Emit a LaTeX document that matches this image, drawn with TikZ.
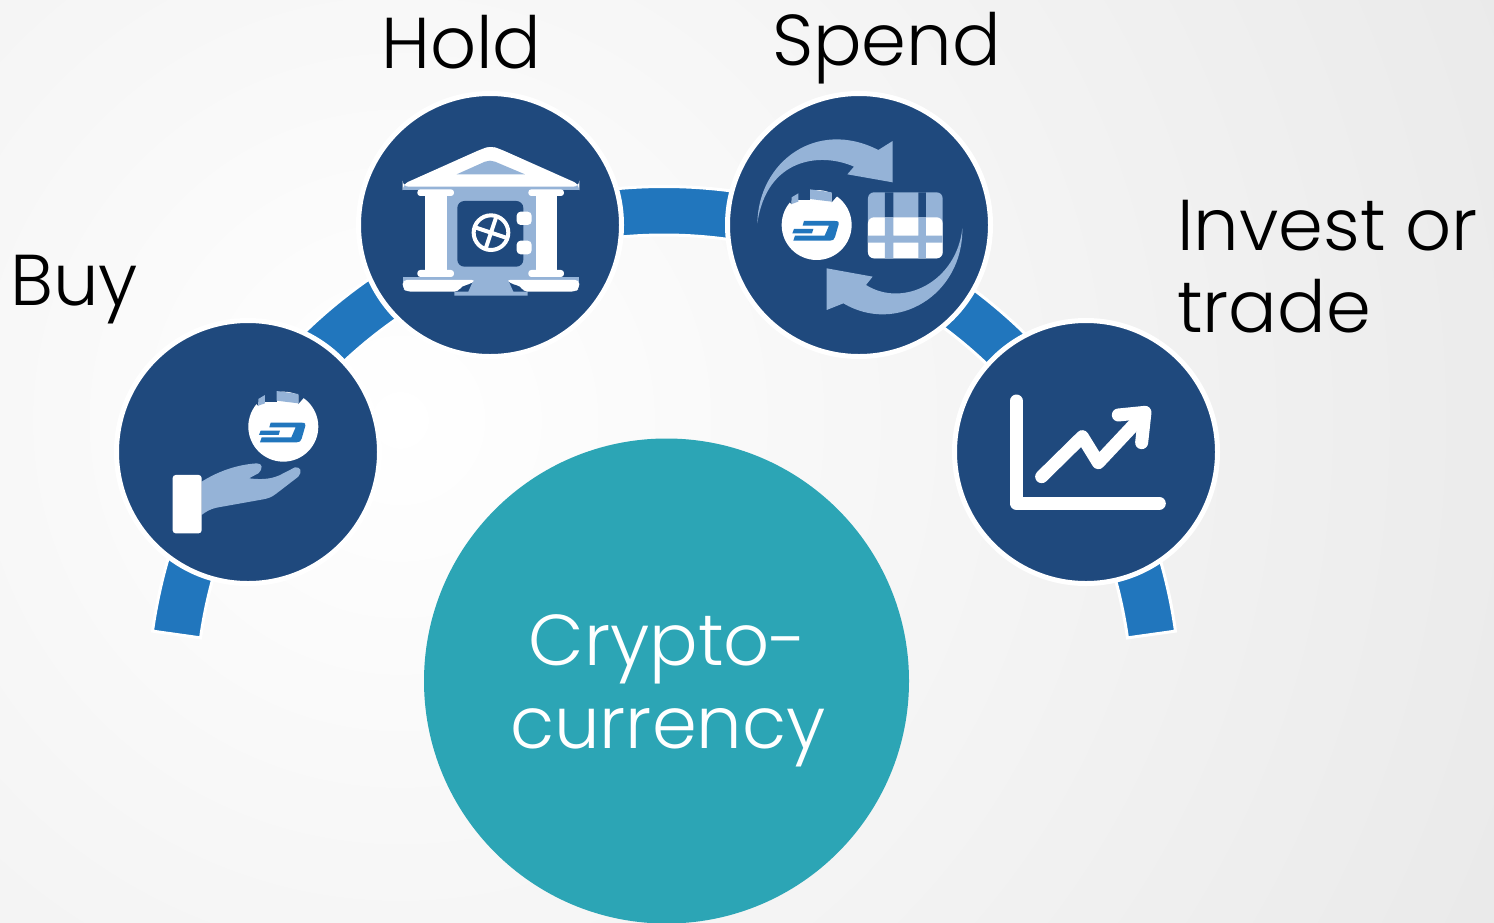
\documentclass[tikz,border=0pt]{standalone}
\usepackage{fontspec}
\setmainfont{Poppins}[UprightFont=* Light]
\definecolor{navy}{HTML}{1F497D}
\definecolor{barblue}{HTML}{2176BD}
\definecolor{pale}{HTML}{95B3D7}
\definecolor{teal1}{HTML}{2CA5B5}
\definecolor{bggrey}{HTML}{E8E8E8}
\newcommand{\coinicon}{%
  \fill[white] (0,0) circle (105);
  \fill[navy] (-55,-115) rectangle (-20,-75);
  \fill[navy] (45,-105) -- (66,-92) -- (45,-68) -- cycle;
  \fill[navy] (-75,-85) -- (-83,-70) -- (-75,-62) -- cycle;
  \fill[pale] (-75,-83) -- (-55,-95) -- (-55,-70) -- (-75,-63) -- cycle;
  \fill[pale] (-20,-107) -- (45,-98) -- (45,-70) -- (-20,-78) -- cycle;
  \fill[barblue] (-38,-12) -- (55,-12) .. controls (66,-12) and (68,-8) .. (66,-2) -- (55,36) .. controls (53,44) and (48,47) .. (40,47) -- (-70,47) -- (-65,32) -- (24,32) -- (37,2) -- (-42,2) -- cycle;
  \fill[barblue] (-68,12) -- (-10,12) -- (-14,25) -- (-73,25) -- cycle;
}
\tikzset{
  hub/.style={circle,fill=navy,draw=white,line width=5pt,minimum size=263pt,inner sep=0pt},
  barseg/.style={fill=barblue,draw=white,line width=3pt},
  label/.style={font=\fontsize{72}{82}\selectfont,text=black,inner sep=0pt,anchor=base west,align=left},
  whiteline/.style={draw=white,line cap=round,line join=round,line width=13pt},
}
\newcommand{\barseg}[2]{\fill[barseg] (664,703) ++(#1:516.5) arc[start angle=#1,end angle=#2,radius=516.5] -- ++(#2:-48.5) arc[start angle=#2,end angle=#1,radius=468] -- cycle;}
\begin{document}
\begin{tikzpicture}[x=1pt,y=-1pt]
\useasboundingbox (0,0) rectangle (1494,922);
\clip (0,0) rectangle (1494,922);
\fill[white] (0,0) rectangle (1494,922);
\shade[inner color=white,outer color=bggrey,shading=radial] (400,420) circle (1300);
% ring segments (y axis is flipped, so angles run clockwise on the page)
\barseg{-172}{-150}
\barseg{-140}{-115}
\barseg{-100}{-75}
\barseg{-65}{-40}
\barseg{-30}{-8}
% hubs
\node[hub] (buy) at (248,452) {};
\node[hub] (hold) at (490,225) {};
\node[hub] (spend) at (859,225) {};
\node[hub] (invest) at (1086,452) {};
\node[circle,fill=teal1,minimum size=485pt,inner sep=0pt] (crypto) at (666.5,681) {};
% labels
\node[label] (lbuy) at (10,305) {Buy};
\node[label] (lhold) at (381,68) {Hold};
\node[label] (lspend) at (772,65) {Spend};
\node[label] (linvest) at (1177,332) {Invest or\\trade};
\node[font=\fontsize{72}{83}\selectfont,text=white,align=center,inner sep=0pt,anchor=base] (lcrypto) at (668,748) {Crypto-\\currency};
% bank icon
\begin{scope}[shift={(360,95)},x=0.3333pt,y=-0.3333pt]
  \fill[pale] (260,285) rectangle (527,545);
  \fill[pale] (128,268) rectangle (658,285);
  \fill[pale] (128,547) rectangle (658,560);
  \fill[pale] (345,545) -- (440,545) -- (460,590) -- (503,590) -- (503,602) -- (283,602) -- (283,590) -- (325,590) -- cycle;
  \fill[white,rounded corners=6pt] (128,275) -- (128,268) -- (365,162) -- (393,153) -- (420,162) -- (658,268) -- (658,275) -- cycle;
  \fill[pale] (290,238) -- (375,200) -- (390,197) -- (405,200) -- (495,238) -- cycle;
  \fill[white,rounded corners=3pt] (172,283) rectangle (282,303);
  \fill[white,rounded corners=3pt] (505,283) rectangle (612,303);
  \fill[white] (195,295) rectangle (260,535);
  \fill[white] (527,295) rectangle (592,535);
  \fill[white,rounded corners=3pt] (172,525) rectangle (282,546);
  \fill[white,rounded corners=3pt] (505,525) rectangle (612,546);
  \fill[white,rounded corners=4pt] (128,555) -- (348,555) -- (325,570) -- (305,572) -- (295,590) -- (140,590) -- (128,580) -- cycle;
  \fill[white,rounded corners=4pt] (658,555) -- (438,555) -- (462,570) -- (482,572) -- (490,590) -- (646,590) -- (658,580) -- cycle;
  \fill[navy,rounded corners=7pt] (292,318) rectangle (490,515);
  \draw[white,line width=4pt] (393,413) circle (52);
  \draw[white,line width=4pt] (342,396) -- (444,430) (410,362) -- (376,464);
  \fill[white,rounded corners=4pt] (470,350) rectangle (515,390);
  \fill[white,rounded corners=4pt] (470,437) rectangle (515,478);
\end{scope}
% exchange icon
\begin{scope}[shift={(730,95)},x=0.3333pt,y=-0.3333pt]
  \fill[pale] (82,385) .. controls (85,200) and (260,70) .. (445,165) -- (488,138) -- (488,262) -- (352,238) -- (372,215) .. controls (270,170) and (110,190) .. (82,385) -- cycle;
  \fill[pale] (697,400) .. controls (700,600) and (500,720) .. (340,625) -- (290,645) -- (290,520) -- (428,545) -- (408,570) .. controls (520,640) and (680,560) .. (697,400) -- cycle;
  \begin{scope}[shift={(260,390)}]\coinicon\end{scope}
  \fill[pale,rounded corners=6pt] (414,292) rectangle (638,490);
  \fill[white,rounded corners=6pt] (414,367) rectangle (638,490);
  \fill[navy] (465,292) rectangle (490,367) (565,292) rectangle (588,367);
  \fill[pale] (465,367) rectangle (490,490) (565,367) rectangle (588,490) (414,422) rectangle (638,443);
\end{scope}
% hand icon
\begin{scope}[shift={(120,325)},x=0.3333pt,y=-0.3333pt]
  \begin{scope}[shift={(490,305)}]\coinicon\end{scope}
  \fill[pale] (245,470) .. controls (285,445) and (340,420) .. (410,415) .. controls (428,415) and (430,430) .. (415,445) -- (387,460) .. controls (430,465) and (460,462) .. (490,445) -- (525,427) .. controls (542,425) and (548,440) .. (535,455) -- (470,505) .. controls (455,517) and (445,520) .. (430,523) -- (290,548) .. controls (270,552) and (255,562) .. (245,570) -- cycle;
  \fill[white,rounded corners=3pt] (158,450) rectangle (245,625);
\end{scope}
% chart icon
\begin{scope}[shift={(950,320)},x=0.3333pt,y=-0.3333pt]
  \draw[whiteline] (199,243) -- (199,550) -- (628,550);
  \draw[whiteline] (275,470) -- (397,350) -- (445,428) -- (570,295);
  \draw[whiteline] (505,285) -- (585,277) -- (575,368);
\end{scope}
\end{tikzpicture}
\end{document}
